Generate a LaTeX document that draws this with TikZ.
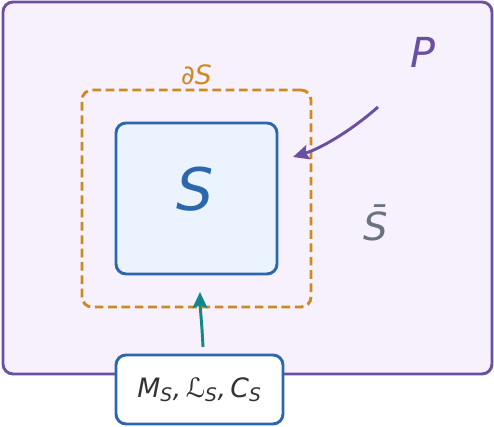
\documentclass[tikz,border=0pt]{standalone}
\usepackage{fontspec}
\setmainfont{DejaVu Sans}
\usetikzlibrary{positioning,arrows.meta}

\definecolor{pline}{HTML}{6A4FA3}
\definecolor{pfill}{HTML}{F6F1FD}
\definecolor{bdline}{HTML}{CD8A22}
\definecolor{sline}{HTML}{2B67AE}
\definecolor{sfill}{HTML}{EBF3FE}
\definecolor{cgray}{HTML}{6B7280}
\definecolor{cteal}{HTML}{11898A}

\begin{document}
\begin{tikzpicture}[
        x=0.75pt, y=-0.75pt,
        >={Stealth[length=12pt,width=11pt,inset=2pt]},
        box/.style={rectangle, rounded corners=7.5pt, line width=2.2pt, inner sep=0pt, outer sep=0pt},
        region/.style={box, draw=pline, fill=pfill},
        boundary/.style={box, draw=bdline, dash pattern=on 6.5pt off 3.5pt},
        sysbox/.style={box, draw=sline, fill=sfill},
        infobox/.style={box, draw=sline, fill=white},
        conn/.style={->, line width=2.2pt}
    ]
    \useasboundingbox (0,0) rectangle (494,427);

    % 外部区域 P
    \node[region, minimum width=366.75pt, minimum height=279pt] (P) at (247.5,188) {};
    \node[text=pline, font=\fontsize{31}{34}\selectfont\itshape] (Plab) at (423,52) {P};
    \node[text=cgray, font=\fontsize{29}{32}\selectfont\itshape] (Sbar) at (376,223) {\={S}};

    % 边界 dS 和系统 S
    \node[boundary, minimum width=171.75pt, minimum height=162.75pt] (dS) at (196.5,198.5) {};
    \node[text=bdline, font=\fontsize{20}{22}\selectfont\itshape, above=0pt of dS.north] (dSlab) {∂S};
    \node[sysbox, minimum width=120.75pt, minimum height=113.25pt] (S) at (196.5,198.5) {};
    \node[text=sline, font=\fontsize{44}{48}\selectfont\itshape] (Slab) at (195,189) {S};

    % 下方的量
    \node[infobox, minimum width=125.25pt, minimum height=51.75pt, text=black!80,
          font=\fontsize{20}{24}\selectfont] (info) at (199.5,389.5)
          {\textit{M\textsubscript{S},\,ℒ\textsubscript{S},\,C\textsubscript{S}}};

    % 箭头
    \coordinate (pin) at (378,107);
    \draw[conn, pline] (pin) .. controls (352,130) and (322,148) .. ([shift={(16,-41.5)}]S.east);
    \draw[conn, cteal] ([shift={(3.5,-8)}]info.north) .. controls (202,325) and (200,305) .. ([shift={(3.5,18)}]S.south);
\end{tikzpicture}
\end{document}
